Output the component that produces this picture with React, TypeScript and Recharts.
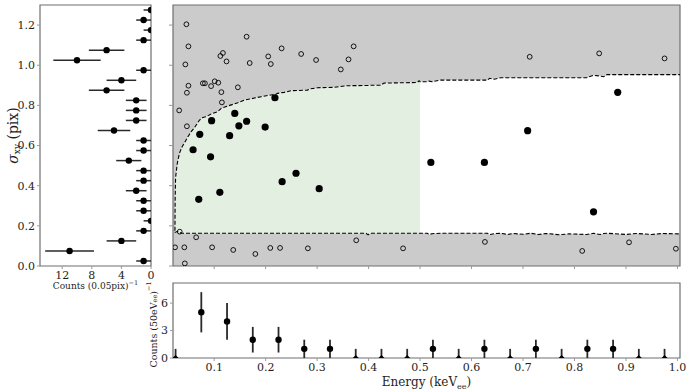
import React from 'react';
import {
  ComposedChart,
  ScatterChart,
  Scatter,
  XAxis,
  YAxis,
  Area,
  Line,
  ErrorBar,
  CartesianGrid,
  ReferenceArea,
  Label,
} from 'recharts';

const SERIF = '"DejaVu Serif", serif';
const SPINE = '#6f6f6f';
const TICK = '#9a9a9a';
const INK = '#1e1e1e';

// left panel: sigma histogram, 0.05 pix bins
const sigmaBins = [
  0.025, 0.075, 0.125, 0.175, 0.225, 0.275, 0.325, 0.375, 0.425, 0.475, 0.525, 0.575, 0.625,
  0.675, 0.725, 0.775, 0.825, 0.875, 0.925, 0.975, 1.025, 1.075, 1.125, 1.175, 1.225, 1.275,
];
const sigmaCounts = [1, 11, 4, 1, 0, 1, 1, 2, 1, 1, 3, 1, 1, 5, 2, 2, 2, 6, 4, 1, 10, 6, 1, 0, 1, 0];
const sigmaErr = [1, 3.3, 2, 1, 1, 1, 1, 1.4, 1, 1, 1.7, 1, 1, 2.2, 1.4, 1.4, 1.4, 2.4, 2, 1, 3.2, 2.4, 1, 1, 1, 1];
const sigmaTicks = [0, 0.2, 0.4, 0.6, 0.8, 1.0, 1.2];
const countTicks = [0, 4, 8, 12];

// bottom panel: energy histogram, 50 eV bins
const energyBins = [
  0.025, 0.075, 0.125, 0.175, 0.225, 0.275, 0.325, 0.375, 0.425, 0.475, 0.525, 0.575, 0.625,
  0.675, 0.725, 0.775, 0.825, 0.875, 0.925, 0.975,
];
const energyCounts = [0, 5, 4, 2, 2, 1, 1, 0, 0, 0, 1, 0, 1, 0, 1, 0, 1, 1, 0, 0];
const energyErr = [1, 2.2, 2, 1.4, 1.4, 1, 1, 1, 1, 1, 1, 1, 1, 1, 1, 1, 1, 1, 1, 1];
const energyTicks = [0.1, 0.2, 0.3, 0.4, 0.5, 0.6, 0.7, 0.8, 0.9, 1.0];
const binCountTicks = [0, 3, 6];

// selected events [energy keVee, sigma pix]
const selected = [
  [0.218, 0.838], [0.14, 0.76], [0.095, 0.724], [0.163, 0.721], [0.148, 0.698],
  [0.199, 0.692], [0.072, 0.656], [0.13, 0.649], [0.059, 0.579], [0.093, 0.544],
  [0.259, 0.462], [0.232, 0.42], [0.304, 0.385], [0.111, 0.367], [0.07, 0.332],
  [0.521, 0.516], [0.625, 0.516], [0.709, 0.674], [0.884, 0.865], [0.837, 0.27],
];

// rejected events outside the acceptance band
const rejected = [
  [0.046, 1.204], [0.163, 1.142], [0.05, 1.094], [0.231, 1.084], [0.371, 1.094],
  [0.117, 1.061], [0.112, 1.046], [0.205, 1.044], [0.269, 1.056], [0.044, 1.004],
  [0.124, 1.019], [0.169, 1.011], [0.21, 1.006], [0.298, 1.026], [0.361, 1.029],
  [0.346, 0.979], [0.05, 0.898], [0.078, 0.91], [0.082, 0.91], [0.101, 0.92],
  [0.108, 0.913], [0.094, 0.896], [0.047, 0.863], [0.114, 0.866], [0.146, 0.89],
  [0.115, 0.815], [0.032, 0.775], [0.047, 0.696], [0.713, 1.042], [0.848, 1.059],
  [0.975, 1.034], [0.033, 0.171], [0.065, 0.143], [0.024, 0.093], [0.042, 0.093],
  [0.096, 0.093], [0.137, 0.08], [0.18, 0.06], [0.209, 0.09], [0.228, 0.09],
  [0.282, 0.088], [0.376, 0.128], [0.467, 0.088], [0.043, 0.013], [0.626, 0.12],
  [0.815, 0.075], [0.906, 0.118], [0.997, 0.086],
];

// acceptance band edges [energy, lower sigma, upper sigma]
const band = [
  [0.0238, 0.17, 0.176], [0.0242, 0.168, 0.33], [0.025, 0.168, 0.44], [0.0264, 0.17, 0.47],
  [0.028, 0.173, 0.505], [0.0296, 0.171, 0.528], [0.033, 0.167, 0.565], [0.038, 0.163, 0.595],
  [0.0425, 0.163, 0.614], [0.049, 0.163, 0.644], [0.0554, 0.163, 0.669], [0.0619, 0.163, 0.69],
  [0.0716, 0.163, 0.727], [0.078, 0.163, 0.74], [0.0845, 0.163, 0.744], [0.0942, 0.163, 0.757],
  [0.1071, 0.163, 0.769], [0.1136, 0.163, 0.785], [0.1265, 0.163, 0.797], [0.1459, 0.163, 0.813],
  [0.1588, 0.163, 0.827], [0.1717, 0.163, 0.833], [0.191, 0.163, 0.843], [0.2104, 0.163, 0.852],
  [0.22, 0.163, 0.855], [0.2233, 0.163, 0.86], [0.2362, 0.163, 0.865], [0.249, 0.163, 0.873],
  [0.281, 0.163, 0.876], [0.288, 0.163, 0.883], [0.301, 0.163, 0.888], [0.333, 0.163, 0.89],
  [0.349, 0.163, 0.895], [0.359, 0.163, 0.898], [0.395, 0.163, 0.899], [0.399, 0.155, 0.899],
  [0.403, 0.163, 0.9], [0.423, 0.163, 0.9], [0.43, 0.163, 0.911], [0.495, 0.163, 0.914],
  [0.498, 0.163, 0.923], [0.5, 0.163, 0.918], [0.514, 0.163, 0.918], [0.518, 0.157, 0.921],
  [0.523, 0.161, 0.918], [0.54, 0.163, 0.926], [0.631, 0.163, 0.926], [0.635, 0.156, 0.935],
  [0.644, 0.161, 0.93], [0.657, 0.163, 0.938], [0.67, 0.157, 0.938], [0.68, 0.162, 0.938],
  [0.7, 0.158, 0.938], [0.715, 0.163, 0.938], [0.73, 0.157, 0.938], [0.745, 0.162, 0.938],
  [0.77, 0.156, 0.938], [0.79, 0.16, 0.938], [0.824, 0.157, 0.938], [0.837, 0.163, 0.95],
  [0.85, 0.157, 0.946], [0.857, 0.162, 0.943], [0.863, 0.163, 0.953], [0.9, 0.157, 0.953],
  [0.92, 0.162, 0.953], [0.95, 0.157, 0.953], [0.97, 0.162, 0.953], [1.005, 0.16, 0.953],
];
const greenLimit = 0.5;

const E_DOMAIN = [0.02, 1.005];
const S_DOMAIN = [0, 1.3];

const sigmaHist = sigmaBins.map((s, i) => ({
  s,
  c: sigmaCounts[i],
  err: sigmaCounts[i] === 0 ? [0, sigmaErr[i]] : [sigmaErr[i], sigmaErr[i]],
}));
const energyHist = energyBins.map((e, i) => ({
  e,
  c: energyCounts[i],
  err: energyCounts[i] === 0 ? [0, energyErr[i]] : [energyErr[i], energyErr[i]],
}));
const bandData = band.map(([e, lo, hi]) => ({ e, lo, hi }));
const selectedData = selected.map(([e, s]) => ({ e, s }));
const rejectedData = rejected.map(([e, s]) => ({ e, s }));

const tickStyle = { fontFamily: SERIF, fontSize: 11, fill: INK };

const RotTitle = ({ viewBox, dx, dy = 0, size, children }: any) => {
  const cx = viewBox.x + dx;
  const cy = viewBox.y + viewBox.height / 2 + dy;
  return (
    <text
      x={cx}
      y={cy}
      transform={`rotate(-90 ${cx} ${cy})`}
      textAnchor="middle"
      dominantBaseline="central"
      fontFamily={SERIF}
      fontSize={size}
      fill={INK}
    >
      {children}
    </text>
  );
};

const FlatTitle = ({ viewBox, dy, size, children }: any) => (
  <text
    x={viewBox.x + viewBox.width / 2}
    y={viewBox.y + dy}
    textAnchor="middle"
    fontFamily={SERIF}
    fontSize={size}
    fill={INK}
  >
    {children}
  </text>
);

const histDot = (p: any) =>
  p.payload.c === 0 ? (
    <path d={`M${p.cx - 3},${p.cy} L${p.cx + 3},${p.cy} L${p.cx},${p.cy - 3} Z`} fill="#000" />
  ) : (
    <circle cx={p.cx} cy={p.cy} r={3.2} fill="#000" />
  );
const sideDot = (p: any) => <circle cx={p.cx} cy={p.cy} r={3.2} fill="#000" />;
const filledDot = (p: any) => <circle cx={p.cx} cy={p.cy} r={3.6} fill="#000" />;
const openDot = (p: any) => (
  <circle cx={p.cx} cy={p.cy} r={2.4} fill="none" stroke="#000" strokeWidth={0.9} />
);

function SigmaHistogram() {
  return (
    <ScatterChart width={160} height={300} margin={{ top: 5, right: 9, bottom: 4, left: 0 }}>
      <XAxis
        type="number"
        dataKey="c"
        domain={[0, 15]}
        reversed
        allowDataOverflow
        ticks={countTicks}
        height={30}
        tick={tickStyle}
        tickSize={3}
        tickLine={{ stroke: TICK }}
        axisLine={false}
      >
        <Label
          content={(p: any) => (
            <FlatTitle viewBox={p.viewBox} dy={23} size={9}>
              Counts (0.05pix)
              <tspan dy={-4} fontSize={6.5}>−1</tspan>
            </FlatTitle>
          )}
        />
      </XAxis>
      <YAxis
        type="number"
        dataKey="s"
        domain={S_DOMAIN}
        allowDataOverflow
        ticks={sigmaTicks}
        width={40}
        tick={tickStyle}
        tickSize={3}
        tickLine={{ stroke: TICK }}
        axisLine={false}
        tickFormatter={(v: number) => v.toFixed(1)}
      >
        <Label
          content={(p: any) => (
            <RotTitle viewBox={p.viewBox} dx={13} size={14}>
              <tspan fontStyle="italic">σ</tspan>
              <tspan dy={4} fontSize={9}>xy</tspan>
              <tspan dy={-4}> (pix)</tspan>
            </RotTitle>
          )}
        />
      </YAxis>
      <ReferenceArea x1={0} x2={15} y1={0} y2={1.3} fill="none" stroke={SPINE} strokeWidth={1.2} />
      <Scatter data={sigmaHist} shape={sideDot} isAnimationActive={false}>
        <ErrorBar dataKey="err" direction="x" width={0} stroke="#2a2a2a" strokeWidth={1.5} />
      </Scatter>
    </ScatterChart>
  );
}

function EventPlane() {
  return (
    <ComposedChart
      width={529}
      height={300}
      data={bandData}
      margin={{ top: 5, right: 9, bottom: 4, left: 0 }}
    >
      <CartesianGrid fill="#cbcbcb" horizontal={false} vertical={false} />
      <XAxis
        type="number"
        dataKey="e"
        domain={E_DOMAIN}
        allowDataOverflow
        ticks={energyTicks}
        height={30}
        tickSize={3}
        tickLine={{ stroke: TICK }}
        axisLine={false}
        tickFormatter={() => ''}
      />
      <YAxis
        type="number"
        dataKey="s"
        domain={S_DOMAIN}
        allowDataOverflow
        ticks={sigmaTicks}
        width={13}
        tickSize={4}
        tickLine={{ stroke: TICK }}
        axisLine={false}
        tickFormatter={() => ''}
      />
      <Area
        type="linear"
        dataKey={(d: any) => [d.lo, d.hi]}
        fill="#ffffff"
        fillOpacity={1}
        stroke="none"
        isAnimationActive={false}
      />
      <Area
        type="linear"
        dataKey={(d: any) => (d.e <= greenLimit ? [d.lo, d.hi] : null)}
        fill="#e3efe1"
        fillOpacity={1}
        stroke="none"
        isAnimationActive={false}
      />
      <Line
        type="linear"
        dataKey="hi"
        stroke="#000"
        strokeWidth={1.1}
        strokeDasharray="4 2"
        dot={false}
        isAnimationActive={false}
      />
      <Line
        type="linear"
        dataKey="lo"
        stroke="#000"
        strokeWidth={1.1}
        strokeDasharray="4 2"
        dot={false}
        isAnimationActive={false}
      />
      <Scatter data={rejectedData} shape={openDot} isAnimationActive={false} />
      <Scatter data={selectedData} shape={filledDot} isAnimationActive={false} />
      <ReferenceArea
        x1={E_DOMAIN[0]}
        x2={E_DOMAIN[1]}
        y1={0}
        y2={1.3}
        fill="none"
        stroke={SPINE}
        strokeWidth={1.2}
      />
    </ComposedChart>
  );
}

function EnergyHistogram() {
  return (
    <ScatterChart width={549} height={117} margin={{ top: 8, right: 9, bottom: 4, left: 0 }}>
      <XAxis
        type="number"
        dataKey="e"
        domain={E_DOMAIN}
        allowDataOverflow
        ticks={energyTicks}
        height={30}
        tick={tickStyle}
        tickSize={3}
        tickLine={{ stroke: TICK }}
        axisLine={false}
        tickFormatter={(v: number) => v.toFixed(1)}
      >
        <Label
          content={(p: any) => (
            <FlatTitle viewBox={p.viewBox} dy={28} size={12}>
              Energy (keV
              <tspan dy={3} fontSize={8}>ee</tspan>
              <tspan dy={-3}>)</tspan>
            </FlatTitle>
          )}
        />
      </XAxis>
      <YAxis
        type="number"
        dataKey="c"
        domain={[0, 8.2]}
        allowDataOverflow
        ticks={binCountTicks}
        width={33}
        tick={tickStyle}
        tickSize={3}
        tickLine={{ stroke: TICK }}
        axisLine={false}
      >
        <Label
          content={(p: any) => (
            <RotTitle viewBox={p.viewBox} dx={13} dy={4} size={9.5}>
              Counts (50eV
              <tspan dy={2} fontSize={6.5}>ee</tspan>
              <tspan dy={-2}>)</tspan>
              <tspan dy={-4} fontSize={6.5}>−1</tspan>
            </RotTitle>
          )}
        />
      </YAxis>
      <ReferenceArea
        x1={E_DOMAIN[0]}
        x2={E_DOMAIN[1]}
        y1={0}
        y2={8.2}
        fill="none"
        stroke={SPINE}
        strokeWidth={1.2}
      />
      <Scatter data={energyHist} shape={histDot} isAnimationActive={false}>
        <ErrorBar dataKey="err" direction="y" width={0} stroke="#2a2a2a" strokeWidth={1.8} />
      </Scatter>
    </ScatterChart>
  );
}

export default function App() {
  return (
    <div
      style={{
        position: 'absolute',
        left: 0,
        top: 0,
        width: 689,
        height: 392,
        background: '#fff',
        overflow: 'hidden',
      }}
    >
      <div style={{ position: 'absolute', left: 0, top: 0 }}>
        <SigmaHistogram />
      </div>
      <div style={{ position: 'absolute', left: 160, top: 0 }}>
        <EventPlane />
      </div>
      <div style={{ position: 'absolute', left: 140, top: 275 }}>
        <EnergyHistogram />
      </div>
    </div>
  );
}
